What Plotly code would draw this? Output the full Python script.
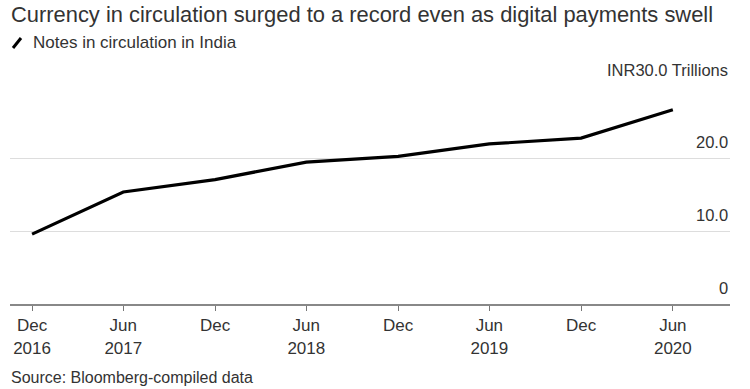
import plotly.graph_objects as go

# Data
dates = ["2016-12-01", "2017-06-01", "2017-12-01", "2018-06-01",
         "2018-12-01", "2019-06-01", "2019-12-01", "2020-06-01"]
notes_trillion = [9.6, 15.4, 17.1, 19.5, 20.3, 22.0, 22.8, 26.7]

tick_dates = dates
tick_labels = ["Dec<br>2016", "Jun<br>2017", "Dec", "Jun<br>2018",
               "Dec", "Jun<br>2019", "Dec", "Jun<br>2020"]
y_tick_vals = [0, 10, 20, 30]
y_tick_labels = ["0", "10.0", "20.0", "INR30.0 Trillions"]

title = "Currency in circulation surged to a record even as digital payments swell"
legend_label = "Notes in circulation in India"
source = "Source: Bloomberg-compiled data"

FONT = "Liberation Sans, Arial, sans-serif"
TXT = "#333333"

# plot area in pixels: x 10..730, y 85..304
PL, PR, PT, PB = 10, 730, 85, 304
PW, PH = PR - PL, PB - PT


def px(x):
    return (x - PL) / PW


def py(y):
    return (PB - y) / PH


fig = go.Figure()
fig.add_trace(go.Scatter(
    x=dates, y=notes_trillion, mode="lines",
    line=dict(color="#000000", width=3.2),
    showlegend=False, hoverinfo="skip",
))

for v, lab in zip(y_tick_vals, y_tick_labels):
    fig.add_annotation(
        x=1, xref="paper", y=v, yref="y", text=lab, showarrow=False,
        xanchor="right", yanchor="bottom", yshift=5,
        font=dict(family=FONT, size=16.5, color=TXT),
    )

fig.update_layout(
    width=750, height=389,
    margin=dict(l=PL, r=750 - PR, t=PT, b=389 - PB, autoexpand=False),
    paper_bgcolor="white", plot_bgcolor="white",
    font=dict(family=FONT, color=TXT),
    showlegend=False,
    xaxis=dict(
        type="date",
        range=["2016-10-18", "2020-09-23"],
        tickvals=tick_dates, ticktext=tick_labels,
        ticks="outside", ticklen=5, tickwidth=1, tickcolor="#777777",
        showline=True, linecolor="#888888", linewidth=2,
        showgrid=False, zeroline=False,
        tickfont=dict(family=FONT, size=17, color=TXT),
        fixedrange=True,
    ),
    yaxis=dict(
        range=[0, 30.1],
        tickvals=[10, 20, 30], showticklabels=False,
        showgrid=True, gridcolor="#dddddd", gridwidth=1,
        zeroline=False, fixedrange=True,
    ),
)

# Title, legend, source as paper annotations
fig.add_annotation(
    x=px(9), xref="paper", y=py(15), yref="paper",
    text=title, showarrow=False, xanchor="left", yanchor="middle",
    font=dict(family=FONT, size=21.9, color=TXT),
)
fig.add_annotation(
    x=px(31), xref="paper", y=py(43), yref="paper",
    text=legend_label, showarrow=False, xanchor="left", yanchor="middle",
    font=dict(family=FONT, size=17, color=TXT),
)
fig.add_shape(
    type="line", xref="paper", yref="paper",
    x0=px(13), x1=px(21), y0=py(48), y1=py(38),
    line=dict(color="#000000", width=3),
)
fig.add_annotation(
    x=px(9), xref="paper", y=py(377), yref="paper",
    text=source, showarrow=False, xanchor="left", yanchor="middle",
    font=dict(family=FONT, size=16, color=TXT),
)

fig.write_html(
    "out.html",
    config={"displayModeBar": False},
    post_script="document.body.style.margin='0';document.body.style.padding='0';",
)
